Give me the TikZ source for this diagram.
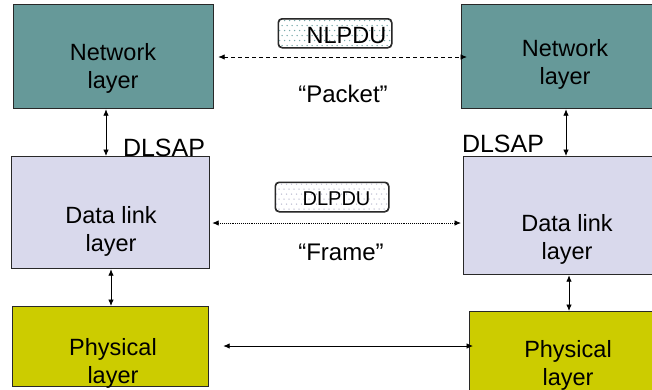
\documentclass[tikz,border=0pt]{standalone}
\usepackage{fontspec}
\setmainfont{Liberation Sans}
\usetikzlibrary{arrows.meta}
\definecolor{netfill}{RGB}{102,153,153}
\definecolor{dlfill}{RGB}{217,217,236}
\definecolor{phyfill}{RGB}{204,204,0}
\definecolor{edge}{RGB}{40,40,40}
\definecolor{nldot}{RGB}{120,170,170}
\definecolor{dldot}{RGB}{190,190,210}
\tikzset{
  layerbox/.style={draw=edge, line width=1.2pt, rectangle, inner sep=0pt, anchor=north west},
  layertext/.style={align=center, font=\fontsize{23.5}{28}\selectfont, inner sep=0pt},
  pdubox/.style={draw=edge, line width=1pt, rounded corners=4pt, inner sep=0pt, anchor=north west, fill=white},
  quotetext/.style={font=\fontsize{24}{28}\selectfont, inner sep=0pt, anchor=base},
  saptext/.style={font=\fontsize{25}{30}\selectfont, inner sep=0pt, anchor=base},
  link/.style={line width=0.9pt, {Latex[length=6.5pt,width=5.5pt]}-{Latex[length=6.5pt,width=5.5pt]}},
}
% stippled fill inside a named PDU tag: #1 node, #2 dot colour
\newcommand{\stipple}[2]{%
  \begin{scope}
    \clip[rounded corners=4pt] ([shift={(1,1)}]#1.north west) rectangle ([shift={(-1,-1)}]#1.south east);
    \foreach \r in {0,...,6}{
      \foreach \c in {0,...,24}{
        \pgfmathsetmacro{\dx}{mod(\r,2)*2.5}
        \fill[#2] ([shift={(\c*5+\dx,\r*5)}]#1.north west) ++(1.5,2) circle (0.75);
      }
    }
  \end{scope}}
\begin{document}
\begin{tikzpicture}[x=1pt,y=-1pt]
\useasboundingbox (0,0) rectangle (652,389);
\clip (0,0) rectangle (652,389);

% layer boxes, left stack
\node[layerbox, fill=netfill, minimum width=200pt, minimum height=104pt] (nlL) at (13,4) {};
\node[layerbox, fill=dlfill, minimum width=198pt, minimum height=112pt] (dlL) at (11,156) {};
\node[layerbox, fill=phyfill, minimum width=196pt, minimum height=80pt] (phL) at (12,306) {};

% layer boxes, right stack (running past the page edge)
\node[layerbox, fill=netfill, minimum width=210pt, minimum height=104pt] (nlR) at (461,4) {};
\node[layerbox, fill=dlfill, minimum width=210pt, minimum height=118pt] (dlR) at (463,156) {};
\node[layerbox, fill=phyfill, minimum width=210pt, minimum height=100pt] (phR) at (469,311) {};

% layer labels
\node[layertext] (nlLt) at (113,68) {Network\\layer};
\node[layertext] (nlRt) at (565,64) {Network\\layer};
\node[layertext] (dlLt) at (111,231) {Data link\\layer};
\node[layertext] (dlRt) at (567,239) {Data link\\layer};
\node[layertext] (phLt) at (113,363) {Physical\\layer};
\node[layertext] (phRt) at (568,365) {Physical\\layer};

% PDU tags
\node[pdubox, minimum width=113pt, minimum height=28.5pt] (nlpdu) at (278,18.5) {};
\stipple{nlpdu}{nldot}
\draw[edge, line width=1pt, rounded corners=4pt] (nlpdu.north west) rectangle (nlpdu.south east);
\node[font=\fontsize{23.5}{28}\selectfont, inner sep=0pt, anchor=base] (nlpdut) at (346.5,43.5) {NLPDU};
\node[pdubox, minimum width=113pt, minimum height=29pt] (dlpdu) at (275,182) {};
\stipple{dlpdu}{dldot}
\draw[edge, line width=1pt, rounded corners=4pt] (dlpdu.north west) rectangle (dlpdu.south east);
\node[font=\fontsize{20}{24}\selectfont, inner sep=0pt, anchor=base] (dlpdut) at (336.5,205) {DLPDU};

% unit names
\node[quotetext] (pkt) at (343,102) {“Packet”};
\node[quotetext] (frm) at (341,260) {“Frame”};

% service access points
\node[saptext] (sapL) at (164,156) {DLSAP};
\node[saptext] (sapR) at (503,152) {DLSAP};

% peer-to-peer exchanges
\draw[link, dash pattern=on 4pt off 3pt] ([xshift=4pt]nlL.east |- 0,57) -- ([xshift=6pt]nlR.west |- 0,57);
\draw[link, densely dotted] ([xshift=2pt]dlL.east |- 0,223) -- ([xshift=-2pt]dlR.west |- 0,223);
\draw[link] ([xshift=14pt]phL.east |- 0,346) -- ([xshift=4pt]phR.west |- 0,346);

% interfaces between adjacent layers
\draw[link] (nlL.south -| 106,0) -- (dlL.north -| 106,0);
\draw[link] (nlR.south -| 566,0) -- (dlR.north -| 566,0);
\draw[link] (dlL.south -| 111,0) -- (phL.north -| 111,0);
\draw[link] (dlR.south -| 569,0) -- (phR.north -| 569,0);
\end{tikzpicture}
\end{document}
